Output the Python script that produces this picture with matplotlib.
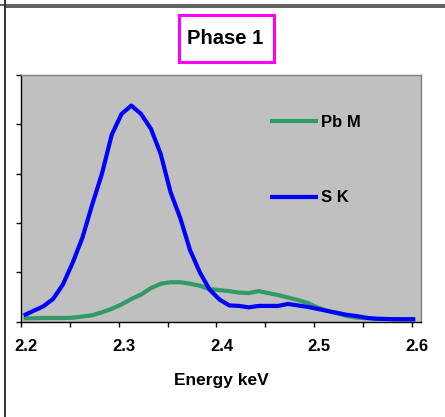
import numpy as np
import matplotlib.pyplot as plt
import matplotlib.transforms as mtransforms
from matplotlib.patches import Rectangle
from matplotlib.lines import Line2D

plt.rcParams['font.family'] = ['Liberation Sans', 'DejaVu Sans']
plt.rcParams['font.weight'] = 'bold'

# energy axis, keV (0.01 keV steps)
energy = np.round(2.203 + 0.01 * np.arange(41), 3)

# Pb M line (green)
pb_m = [0.07, 0.07, 0.075, 0.075, 0.075, 0.08, 0.105, 0.13, 0.19, 0.26,
        0.35, 0.46, 0.55, 0.68, 0.77, 0.80, 0.80, 0.77, 0.73, 0.66,
        0.64, 0.62, 0.59, 0.58, 0.62, 0.58, 0.54, 0.49, 0.44, 0.38,
        0.29, 0.22, 0.17, 0.115, 0.085, 0.07, 0.06, 0.055, 0.05, 0.05, 0.05]

# S K line (blue)
s_k = [0.126, 0.22, 0.31, 0.46, 0.75, 1.19, 1.70, 2.37, 3.00, 3.79,
       4.21, 4.38, 4.21, 3.91, 3.40, 2.63, 2.10, 1.45, 1.00, 0.65,
       0.45, 0.33, 0.32, 0.29, 0.32, 0.32, 0.32, 0.36, 0.33, 0.30,
       0.26, 0.22, 0.18, 0.14, 0.115, 0.08, 0.06, 0.055, 0.05, 0.05, 0.05]

xtick_labels = ['2.2', '2.3', '2.4', '2.5', '2.6']

W, H = 445, 417
fig = plt.figure(figsize=(W / 100, H / 100), dpi=100)
fig.patch.set_facecolor('white')

ax = fig.add_axes([20.7 / W, 1 - 321.7 / H, 400.3 / W, 246.7 / H])
ax.set_facecolor('#c0c0c0')

ax.plot(energy, pb_m, color='#339966', lw=3, label='Pb M', solid_capstyle='butt')
ax.plot(energy, s_k, color='#0000ff', lw=3, label='S K', solid_capstyle='butt')

ax.set_xlim(2.2, 2.6089)
ax.set_ylim(0, 5)
ax.set_xticks([2.2, 2.3, 2.4, 2.5, 2.6])
ax.set_xticks(np.arange(2.25, 2.6, 0.1), minor=True)
ax.set_xticklabels(xtick_labels, fontsize=12, fontweight='bold')
ax.set_yticks(np.arange(0, 5.1, 1))
ax.set_yticklabels([])
ax.tick_params(axis='both', which='both', direction='out', length=3.6, width=1, color='black')
ax.tick_params(axis='x', which='major', pad=9)

# shift tick labels a little to the right like the original
offset = mtransforms.ScaledTranslation(0.05, 0, fig.dpi_scale_trans)
for lab in ax.get_xticklabels():
    lab.set_transform(lab.get_transform() + offset)

for side in ['top', 'right']:
    ax.spines[side].set_color('#808080')
    ax.spines[side].set_linewidth(1)
for side in ['left', 'bottom']:
    ax.spines[side].set_color('black')
    ax.spines[side].set_linewidth(1)

leg = ax.legend(loc='upper left', bbox_to_anchor=(0.6228, 0.839), frameon=False,
                fontsize=12, handlelength=2.87, handletextpad=0.18,
                labelspacing=3.64, borderpad=0, borderaxespad=0)
for t in leg.get_texts():
    t.set_fontweight('bold')

fig.text(220.9 / W, 1 - 385 / H, 'Energy keV', ha='center', va='baseline',
         fontsize=12.5, fontweight='bold')

# title with magenta frame
fig.text(225.5 / W, 1 - 44.3 / H, 'Phase 1', ha='center', va='baseline',
         fontsize=14.5, fontweight='bold')
fig.patches.append(Rectangle((178.5 / W, 1 - 61.5 / H), 95 / W, 47 / H,
                             transform=fig.transFigure, fill=False,
                             edgecolor='#ff00ff', lw=2.2))

# outer frame lines
fig.lines.append(Line2D([0, 1], [1 - 4.5 / H, 1 - 4.5 / H], transform=fig.transFigure,
                        color='#333333', lw=1.1))
fig.lines.append(Line2D([5 / W, 1], [1 - 7.3 / H, 1 - 7.3 / H], transform=fig.transFigure,
                        color='#333333', lw=1.1))
fig.lines.append(Line2D([5 / W, 5 / W], [0, 1], transform=fig.transFigure,
                        color='#333333', lw=1.4))

fig.savefig('out.png', dpi=100)
